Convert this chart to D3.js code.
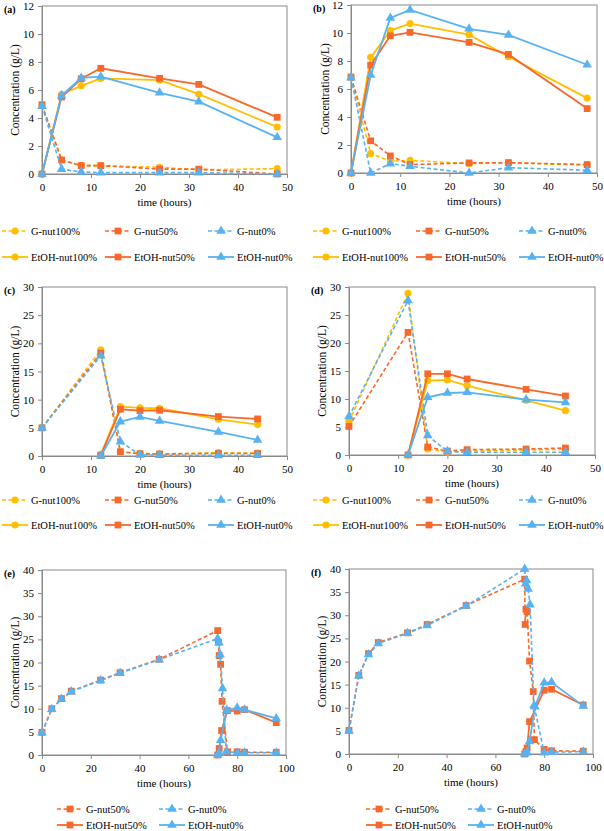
<!DOCTYPE html>
<html>
<head>
<meta charset="utf-8">
<script src="https://cdn.jsdelivr.net/npm/d3@7/dist/d3.min.js"></script>
<style>
  body { margin: 0; background: #fff; }
</style>
</head>
<body>
<svg id="chart" width="604" height="831"></svg>
<script>
// ---- data ----
const timeAB = [0, 4, 8, 12, 24, 32, 48];
const aGnut100 = [4.9, 1.0, 0.6, 0.6, 0.48, 0.3, 0.38];
const aGnut50 = [4.95, 1.0, 0.6, 0.6, 0.35, 0.35, 0.0];
const aGnut0 = [4.85, 0.35, 0.15, 0.1, 0.1, 0.1, 0.0];
const aEtOHnut100 = [0, 5.7, 6.3, 6.83, 6.7, 5.7, 3.36];
const aEtOHnut50 = [0, 5.5, 6.8, 7.55, 6.83, 6.4, 4.05];
const aEtOHnut0 = [0, 5.6, 6.86, 6.95, 5.8, 5.17, 2.62];

const bGnut100 = [6.85, 1.38, 0.85, 0.9, 0.67, 0.72, 0.57];
const bGnut50 = [6.85, 2.3, 1.22, 0.6, 0.72, 0.74, 0.6];
const bGnut0 = [6.8, 0.0, 0.67, 0.48, 0.0, 0.38, 0.2];
const bEtOHnut100 = [0, 8.26, 10.17, 10.67, 9.88, 8.3, 5.35];
const bEtOHnut50 = [0, 7.7, 9.8, 10.05, 9.33, 8.47, 4.6];
const bEtOHnut0 = [0, 7.0, 11.07, 11.65, 10.3, 9.86, 7.73];

const timeGCD = [0, 12, 16, 20, 24, 36, 44];
const timeEtOHCD = [12, 16, 20, 24, 36, 44];
const cGnut100 = [5.0, 18.85, 0.7, 0.45, 0.35, 0.6, 0.5];
const cGnut50 = [5.0, 18.26, 0.77, 0.4, 0.35, 0.45, 0.45];
const cGnut0 = [4.98, 17.8, 2.55, 0.2, 0.15, 0.1, 0.15];
const cEtOHnut100 = [0.3, 8.77, 8.54, 8.48, 6.52, 5.57];
const cEtOHnut50 = [0.1, 8.3, 8.06, 8.12, 7.0, 6.58];
const cEtOHnut0 = [0, 6.1, 6.94, 6.22, 4.27, 2.85];

const dGnut100 = [6.0, 28.87, 1.07, 0.5, 0.7, 0.9, 1.0];
const dGnut50 = [5.1, 21.9, 1.43, 0.7, 0.95, 1.07, 1.25];
const dGnut0 = [6.9, 27.6, 3.5, 0.65, 0.5, 0.5, 0.5];
const dEtOHnut100 = [0, 13.3, 13.4, 12.38, 9.76, 7.92];
const dEtOHnut50 = [0, 14.5, 14.5, 13.57, 11.73, 10.54];
const dEtOHnut0 = [0, 10.3, 11.07, 11.19, 9.88, 9.4];

const eTimeGnut50 = [0, 4, 8, 12, 24, 32, 48, 72, 72.3, 72.6, 73.2, 73.8, 76, 80, 83, 96];
const eGnut50 = [4.9, 10.0, 12.2, 13.8, 16.2, 17.8, 20.7, 26.9, 24.4, 21.5, 19.6, 11.6, 0.7, 0.7, 0.6, 0.6];
const eTimeGnut0 = [0, 4, 8, 12, 24, 32, 48, 72, 72.5, 73, 74, 75.5, 80, 83, 96];
const eGnut0 = [4.8, 9.9, 12.1, 13.7, 16.1, 17.7, 20.6, 25.2, 24.3, 21.7, 14.4, 0.7, 0.5, 0.5, 0.5];
const eTimeEtOHnut50 = [72, 72.6, 73.6, 76, 80, 83, 96];
const eEtOHnut50 = [0, 1.4, 5.3, 9.6, 9.5, 9.8, 7.0];
const eTimeEtOHnut0 = [72, 72.5, 73.2, 75.7, 80, 83, 96];
const eEtOHnut0 = [0, 0.5, 3.2, 9.7, 10.2, 9.8, 7.9];

const fTimeGnut50 = [0, 4, 8, 12, 24, 32, 48, 72, 72.2, 72.5, 73, 74, 75.5, 76, 80, 83, 96];
const fGnut50 = [5.1, 17.0, 21.7, 24.1, 26.2, 28.0, 32.1, 37.8, 28.0, 31.3, 30.8, 20.1, 13.5, 3.1, 1.0, 0.7, 0.6];
const fTimeGnut0 = [0, 4, 8, 12, 24, 32, 48, 72, 72.4, 72.8, 73.4, 74.2, 75.8, 80, 83, 96];
const fGnut0 = [5.0, 16.9, 21.5, 23.9, 26.1, 27.8, 32.0, 40.0, 36.8, 37.5, 35.7, 32.3, 10.5, 0.3, 0.4, 0.5];
const fTimeEtOHnut50 = [72, 72.5, 73, 74, 80, 83, 96];
const fEtOHnut50 = [0, 0.5, 1.3, 7.0, 13.8, 14.0, 10.6];
const fTimeEtOHnut0 = [72, 73, 74, 76.2, 80, 83, 96];
const fEtOHnut0 = [0, 0.3, 2.7, 10.2, 15.4, 15.5, 10.4];

const seriesNames = ['G-nut100%', 'G-nut50%', 'G-nut0%', 'EtOH-nut100%', 'EtOH-nut50%', 'EtOH-nut0%'];

// ---- styles ----
const FONT = '"Liberation Serif", "Times New Roman", Times, serif';
const FS = '10.5px';
const YELLOW = '#FFBF00', ORANGE = '#F7682A', BLUE = '#58B2F0';
const styles = {
  'G-nut100%': { color: YELLOW, dash: true, marker: d3.symbolCircle },
  'G-nut50%': { color: ORANGE, dash: true, marker: d3.symbolSquare },
  'G-nut0%': { color: BLUE, dash: true, marker: d3.symbolTriangle },
  'EtOH-nut100%': { color: YELLOW, dash: false, marker: d3.symbolCircle },
  'EtOH-nut50%': { color: ORANGE, dash: false, marker: d3.symbolSquare },
  'EtOH-nut0%': { color: BLUE, dash: false, marker: d3.symbolTriangle }
};
function symbolPath(type) {
  const size = type === d3.symbolCircle ? 40 : type === d3.symbolSquare ? 46 : 40;
  return d3.symbol().type(type).size(size)();
}

const zip = (xs, ys) => xs.map((x, i) => ({ x, y: ys[i] }));

const panels = [
  { label: '(a)', left: 42, right: 287, top: 6, bottom: 174, xMax: 50, xStep: 10, yMax: 12, yStep: 2,
    ylabX: 15, timeY: 202, legend: { x: 2, y1: 231, y2: 257, dx: 103, names: seriesNames },
    series: [
      ['G-nut100%', zip(timeAB, aGnut100)], ['G-nut50%', zip(timeAB, aGnut50)], ['G-nut0%', zip(timeAB, aGnut0)],
      ['EtOH-nut100%', zip(timeAB, aEtOHnut100)], ['EtOH-nut50%', zip(timeAB, aEtOHnut50)], ['EtOH-nut0%', zip(timeAB, aEtOHnut0)]
    ] },
  { label: '(b)', left: 351, right: 597, top: 5, bottom: 173, xMax: 50, xStep: 10, yMax: 12, yStep: 2,
    ylabX: 325, timeY: 201, legend: { x: 313, y1: 231, y2: 257, dx: 103, names: seriesNames },
    series: [
      ['G-nut100%', zip(timeAB, bGnut100)], ['G-nut50%', zip(timeAB, bGnut50)], ['G-nut0%', zip(timeAB, bGnut0)],
      ['EtOH-nut100%', zip(timeAB, bEtOHnut100)], ['EtOH-nut50%', zip(timeAB, bEtOHnut50)], ['EtOH-nut0%', zip(timeAB, bEtOHnut0)]
    ] },
  { label: '(c)', left: 42, right: 287, top: 287, bottom: 456, xMax: 50, xStep: 10, yMax: 30, yStep: 5,
    ylabX: 15, timeY: 484, legend: { x: 2, y1: 500, y2: 525, dx: 103, names: seriesNames },
    series: [
      ['G-nut100%', zip(timeGCD, cGnut100)], ['G-nut50%', zip(timeGCD, cGnut50)], ['G-nut0%', zip(timeGCD, cGnut0)],
      ['EtOH-nut100%', zip(timeEtOHCD, cEtOHnut100)], ['EtOH-nut50%', zip(timeEtOHCD, cEtOHnut50)], ['EtOH-nut0%', zip(timeEtOHCD, cEtOHnut0)]
    ] },
  { label: '(d)', left: 349, right: 595, top: 287, bottom: 455, xMax: 50, xStep: 10, yMax: 30, yStep: 5,
    ylabX: 322, timeY: 483, legend: { x: 313, y1: 500, y2: 525, dx: 103, names: seriesNames },
    series: [
      ['G-nut100%', zip(timeGCD, dGnut100)], ['G-nut50%', zip(timeGCD, dGnut50)], ['G-nut0%', zip(timeGCD, dGnut0)],
      ['EtOH-nut100%', zip(timeEtOHCD, dEtOHnut100)], ['EtOH-nut50%', zip(timeEtOHCD, dEtOHnut50)], ['EtOH-nut0%', zip(timeEtOHCD, dEtOHnut0)]
    ] },
  { label: '(e)', left: 42, right: 286, top: 570, bottom: 755, xMax: 100, xStep: 20, yMax: 40, yStep: 5,
    ylabX: 15, timeY: 783, legend: { x: 57, y1: 809, y2: 825, dx: 102, names: ['G-nut50%', 'G-nut0%', 'EtOH-nut50%', 'EtOH-nut0%'] },
    series: [
      ['G-nut50%', zip(eTimeGnut50, eGnut50)], ['G-nut0%', zip(eTimeGnut0, eGnut0)],
      ['EtOH-nut50%', zip(eTimeEtOHnut50, eEtOHnut50)], ['EtOH-nut0%', zip(eTimeEtOHnut0, eEtOHnut0)]
    ] },
  { label: '(f)', left: 349, right: 593, top: 569, bottom: 754, xMax: 100, xStep: 20, yMax: 40, yStep: 5,
    ylabX: 322, timeY: 782, legend: { x: 366, y1: 809, y2: 825, dx: 102, names: ['G-nut50%', 'G-nut0%', 'EtOH-nut50%', 'EtOH-nut0%'] },
    series: [
      ['G-nut50%', zip(fTimeGnut50, fGnut50)], ['G-nut0%', zip(fTimeGnut0, fGnut0)],
      ['EtOH-nut50%', zip(fTimeEtOHnut50, fEtOHnut50)], ['EtOH-nut0%', zip(fTimeEtOHnut0, fEtOHnut0)]
    ] }
];

const svg = d3.select('#chart');

function drawPanel(p) {
  const x = d3.scaleLinear().domain([0, p.xMax]).range([p.left, p.right]);
  const y = d3.scaleLinear().domain([0, p.yMax]).range([p.bottom, p.top]);
  const g = svg.append('g');

  // plot frame
  g.append('rect')
    .attr('x', p.left).attr('y', p.top)
    .attr('width', p.right - p.left).attr('height', p.bottom - p.top)
    .attr('fill', 'none').attr('stroke', '#8a8a8a').attr('stroke-width', 1);

  // axes
  const xAxis = d3.axisBottom(x).tickValues(d3.range(0, p.xMax + 0.01, p.xStep)).tickSize(4).tickPadding(5);
  const yAxis = d3.axisLeft(y).tickValues(d3.range(0, p.yMax + 0.01, p.yStep)).tickSize(4).tickPadding(4);
  const gx = g.append('g').attr('transform', `translate(0,${p.bottom})`).call(xAxis);
  const gy = g.append('g').attr('transform', `translate(${p.left},0)`).call(yAxis);
  [gx, gy].forEach(a => {
    a.attr('font-family', FONT).attr('font-size', '11px');
    a.selectAll('path, line').attr('stroke', '#8a8a8a');
    a.selectAll('text').attr('fill', '#000');
  });

  // axis titles and panel label
  g.append('text')
    .attr('transform', `translate(${p.ylabX},${(p.top + p.bottom) / 2}) rotate(-90)`)
    .attr('text-anchor', 'middle').attr('dy', '0.35em')
    .attr('font-family', FONT).attr('font-size', '11.5px').text('Concentration (g/L)');
  g.append('text')
    .attr('x', (p.left + p.right) / 2).attr('y', p.timeY)
    .attr('text-anchor', 'middle').attr('dy', '0.35em')
    .attr('font-family', FONT).attr('font-size', '11px').text('time (hours)');
  g.append('text')
    .attr('x', p.left - 38).attr('y', p.top + 3)
    .attr('dy', '0.35em')
    .attr('font-family', FONT).attr('font-size', '10px').attr('font-weight', 'bold').text(p.label);

  // series
  const line = d3.line().x(d => x(d.x)).y(d => y(d.y));
  p.series.forEach(([name, pts]) => {
    const s = styles[name];
    const sg = g.append('g');
    sg.append('path')
      .attr('d', line(pts))
      .attr('fill', 'none').attr('stroke', s.color)
      .attr('stroke-width', s.dash ? 1.6 : 1.8)
      .attr('stroke-dasharray', s.dash ? '4,2.5' : null);
    sg.selectAll('path.m').data(pts).enter().append('path')
      .attr('class', 'm')
      .attr('transform', d => `translate(${x(d.x)},${y(d.y)})`)
      .attr('d', symbolPath(s.marker))
      .attr('fill', s.color);
  });

  // legend
  const L = p.legend;
  const perRow = L.names.length / 2;
  L.names.forEach((name, i) => {
    const s = styles[name];
    const lx = L.x + (i % perRow) * L.dx;
    const ly = i < perRow ? L.y1 : L.y2;
    const lg = g.append('g').attr('transform', `translate(${lx},${ly})`);
    lg.append('line').attr('x1', 0).attr('x2', 26).attr('y1', 0).attr('y2', 0)
      .attr('stroke', s.color).attr('stroke-width', s.dash ? 1.6 : 1.8)
      .attr('stroke-dasharray', s.dash ? '4,2.5' : null);
    lg.append('path').attr('transform', 'translate(13,0)')
      .attr('d', symbolPath(s.marker)).attr('fill', s.color);
    lg.append('text').attr('x', 29).attr('dy', '0.35em')
      .attr('font-family', FONT).attr('font-size', FS).text(name);
  });
}

panels.forEach(drawPanel);
</script>
</body>
</html>
